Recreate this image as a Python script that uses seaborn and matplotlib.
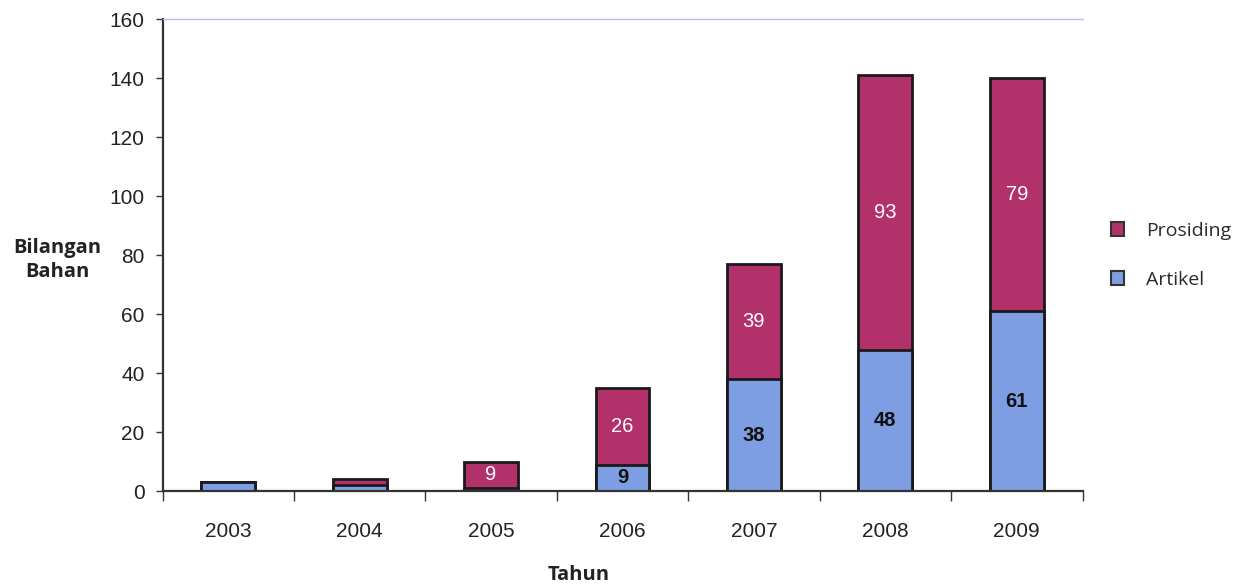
import matplotlib
matplotlib.use("Agg")
import matplotlib.pyplot as plt
from matplotlib.patches import Patch
from matplotlib.ticker import FixedLocator
import seaborn as sns
import pandas as pd

years = ["2003", "2004", "2005", "2006", "2007", "2008", "2009"]
artikel = [3, 2, 1, 9, 38, 48, 61]
prosiding = [0, 2, 9, 26, 39, 93, 79]
y_ticks = [0, 20, 40, 60, 80, 100, 120, 140, 160]

color_pros = "#b3316b"
color_art = "#7d9ee3"

df = pd.DataFrame({"Tahun": years, "Artikel": artikel, "Prosiding": prosiding})
df["Jumlah"] = df["Artikel"] + df["Prosiding"]

sns.set_style("white")
plt.rcParams["font.family"] = ["Liberation Sans", "DejaVu Sans"]
label_font = ["Open Sans", "DejaVu Sans"]

fig = plt.figure(figsize=(12.5, 5.84), dpi=100)
ax = fig.add_axes([0.130, 0.159, 0.736, 0.808])

# stacked bars: full height in Prosiding colour, Artikel drawn over the base
sns.barplot(data=df, x="Tahun", y="Jumlah", color=color_pros, saturation=1,
            width=0.41, edgecolor="#1a1a1a", linewidth=2.0, ax=ax)
sns.barplot(data=df, x="Tahun", y="Artikel", color=color_art, saturation=1,
            width=0.41, edgecolor="#1a1a1a", linewidth=2.0, ax=ax)

# segment value labels
for i in range(len(years)):
    a, p = artikel[i], prosiding[i]
    if a >= 5:
        ax.text(i, a / 2, str(a), ha="center", va="center", fontsize=14.5,
                color="#111111", fontweight="bold")
    if p >= 5:
        ax.text(i, a + p / 2, str(p), ha="center", va="center", fontsize=14.5,
                color="white")

ax.set_xlim(-0.5, len(years) - 0.5)
ax.set_ylim(0, 160)
ax.set_yticks(y_ticks)
ax.tick_params(axis="y", labelsize=15, labelcolor="#222222", length=5,
               width=1, direction="out", left=True, color="#333333", pad=8)
ax.tick_params(axis="x", which="major", labelsize=15, labelcolor="#222222",
               length=0, pad=22)
ax.xaxis.set_minor_locator(FixedLocator([k - 0.5 for k in range(len(years) + 1)]))
ax.tick_params(axis="x", which="minor", length=7, width=1, direction="out",
               bottom=True, color="#333333")

ax.set_xlabel("Tahun", fontsize=14.5, fontweight="bold", family=label_font,
              color="#222222", va="center")
ax.xaxis.set_label_coords(0.452, -0.178)
ax.set_ylabel("Bilangan\nBahan", fontsize=14.5, fontweight="bold",
              family=label_font, rotation=0, color="#222222",
              ha="center", va="center", linespacing=1.25)
ax.yaxis.set_label_coords(-0.114, 0.49)

for side in ["left", "bottom"]:
    ax.spines[side].set_color("#333333")
    ax.spines[side].set_linewidth(1.6)
ax.spines["top"].set_color("#b5c6e0")
ax.spines["top"].set_linewidth(1.0)
ax.spines["right"].set_visible(False)

handles = [Patch(facecolor=color_pros, edgecolor="#333333", linewidth=1.5),
           Patch(facecolor=color_art, edgecolor="#333333", linewidth=1.5)]
leg = fig.legend(handles, ["Prosiding", "Artikel"], loc="center left",
                 bbox_to_anchor=(0.889, 0.563), frameon=False,
                 borderpad=0, borderaxespad=0,
                 prop={"family": label_font, "size": 14},
                 handlelength=0.68, handleheight=0.68, handletextpad=1.1,
                 labelspacing=1.6, labelcolor="#2a2a2a")

fig.savefig("out.png", dpi=100, facecolor="white")
